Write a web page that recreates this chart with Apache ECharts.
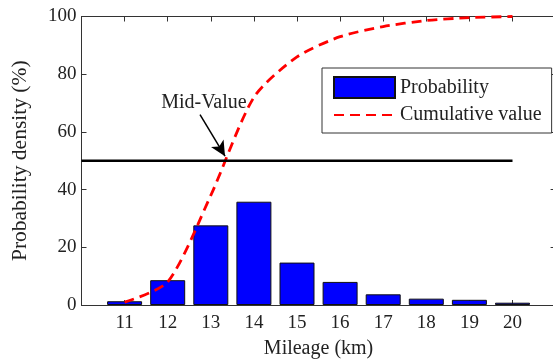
<!DOCTYPE html>
<html>
<head>
<meta charset="utf-8">
<script src="https://cdn.jsdelivr.net/npm/echarts@6/dist/echarts.min.js"></script>
<style>
  html, body { margin: 0; padding: 0; background: #fff; }
  #chart { width: 553px; height: 362px; }
</style>
</head>
<body>
<div id="chart"></div>
<script>
// 数据
var mileage = [11, 12, 13, 14, 15, 16, 17, 18, 19, 20];
var probability = [1.3, 8.6, 27.6, 35.8, 14.7, 8.0, 3.7, 2.2, 1.8, 0.8];
var cumulative = [1, 8, 38, 72, 86, 93, 96.5, 98.6, 99.6, 100];
var midValue = 50;
var midRange = [10, 20];
var midLabelAt = [12.84, 70];
var midArrow = [[12.75, 66], [13.33, 51.6]];

var font = 'Liberation Serif';
var axisColor = '#333';

var chart = echarts.init(document.getElementById('chart'));

chart.setOption({
  backgroundColor: '#fff',
  animation: false,
  grid: { left: 81.5, right: -2.6, top: 16.5, bottom: 57, outerBoundsMode: 'none' },
  legend: {
    orient: 'vertical',
    left: 322,
    top: 68,
    padding: [8, 10, 8, 11],
    itemWidth: 61,
    itemHeight: 21,
    itemGap: 6,
    borderColor: '#333',
    borderWidth: 1,
    backgroundColor: '#fff',
    data: [
      { name: 'Probability', icon: 'rect' },
      { name: 'Cumulative value', itemStyle: { opacity: 0 } }
    ],
    textStyle: { fontFamily: font, fontSize: 20, color: '#222' }
  },
  xAxis: [
    {
      type: 'value',
      min: 10,
      max: 21,
      interval: 1,
      position: 'bottom',
      name: 'Mileage (km)',
      nameLocation: 'middle',
      nameGap: 34,
      nameTextStyle: { fontFamily: font, fontSize: 20, color: '#222' },
      axisLine: { onZero: false, lineStyle: { color: axisColor, width: 1 } },
      axisTick: { inside: true, length: 5, lineStyle: { color: axisColor } },
      axisLabel: {
        margin: 9,
        fontFamily: font,
        fontSize: 19,
        color: '#222',
        formatter: function (v) { return mileage.indexOf(v) >= 0 ? String(v) : ''; }
      },
      splitLine: { show: false }
    },
    {
      type: 'value',
      min: 10,
      max: 21,
      interval: 1,
      position: 'top',
      axisLine: { onZero: false, lineStyle: { color: axisColor, width: 1 } },
      axisTick: { inside: true, length: 5, lineStyle: { color: axisColor } },
      axisLabel: { show: false },
      splitLine: { show: false }
    }
  ],
  yAxis: [
    {
      type: 'value',
      min: 0,
      max: 100,
      interval: 20,
      position: 'left',
      name: 'Probability density (%)',
      nameLocation: 'middle',
      nameGap: 50,
      nameTextStyle: { fontFamily: font, fontSize: 21.5, color: '#222' },
      axisLine: { show: true, onZero: false, lineStyle: { color: axisColor, width: 1 } },
      axisTick: { show: true, inside: true, length: 5, lineStyle: { color: axisColor } },
      axisLabel: { margin: 5, fontFamily: font, fontSize: 19, color: '#222' },
      splitLine: { show: false }
    },
    {
      type: 'value',
      min: 0,
      max: 100,
      interval: 20,
      position: 'right',
      axisLine: { show: true, onZero: false, lineStyle: { color: axisColor, width: 1 } },
      axisTick: { show: true, inside: true, length: 5, lineStyle: { color: axisColor } },
      axisLabel: { show: false },
      splitLine: { show: false }
    }
  ],
  series: [
    {
      name: 'Probability',
      type: 'bar',
      xAxisIndex: 0,
      yAxisIndex: 0,
      barWidth: 35,
      data: mileage.map(function (m, i) { return [m, probability[i]]; }),
      itemStyle: { color: '#0000ff', borderColor: '#111', borderWidth: 1 },
      z: 2
    },
    {
      name: 'Cumulative value',
      type: 'line',
      xAxisIndex: 0,
      yAxisIndex: 0,
      smooth: 0.25,
      symbol: 'none',
      data: mileage.map(function (m, i) { return [m, cumulative[i]]; }),
      lineStyle: { color: '#ff0000', width: 2.8, type: [10, 6] },
      itemStyle: { color: '#ff0000' },
      z: 3
    },
    {
      name: 'Mid-Value',
      type: 'line',
      xAxisIndex: 0,
      yAxisIndex: 0,
      symbol: 'none',
      silent: true,
      data: midRange.map(function (x) { return [x, midValue]; }),
      lineStyle: { color: '#000', width: 2.5 },
      z: 4,
      markLine: {
        silent: true,
        symbol: ['none', 'arrow'],
        symbolSize: [11, 15],
        lineStyle: { color: '#000', width: 1.5, type: 'solid' },
        label: { show: false },
        data: [[{ coord: midArrow[0] }, { coord: midArrow[1] }]]
      },
      markPoint: {
        silent: true,
        symbol: 'rect',
        symbolSize: 1,
        itemStyle: { color: 'rgba(0,0,0,0)' },
        label: {
          show: true,
          position: 'inside',
          formatter: 'Mid-Value',
          fontFamily: font,
          fontSize: 20,
          color: '#222'
        },
        data: [{ coord: midLabelAt }]
      }
    }
  ]
});

window.addEventListener('resize', chart.resize);
</script>
</body>
</html>
